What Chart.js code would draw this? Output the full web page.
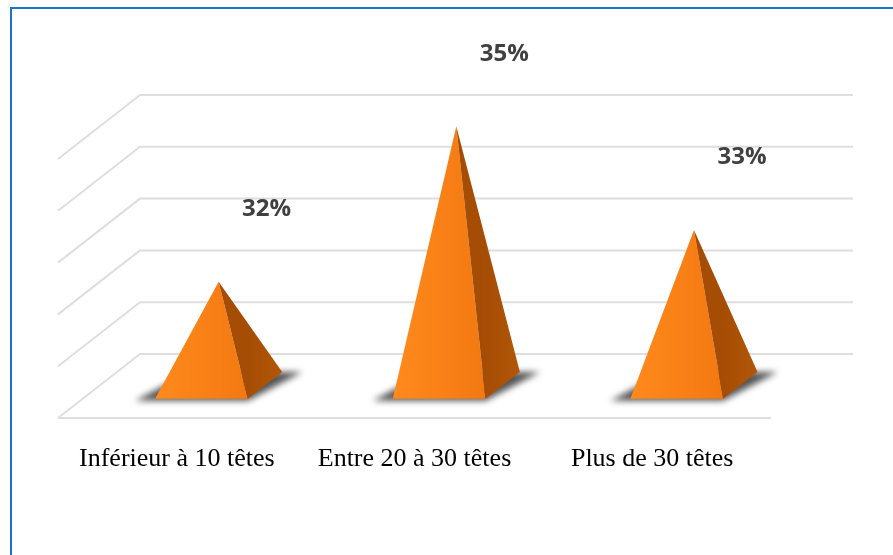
<!DOCTYPE html>
<html lang="fr">
<head>
<meta charset="utf-8">
<title>Taille du troupeau</title>
<script src="https://cdn.jsdelivr.net/npm/chart.js@4.4.1/dist/chart.umd.min.js"></script>
<style>
  html, body { margin: 0; padding: 0; background: #fff; overflow: hidden; }
  #frame { position: absolute; left: 10px; top: 7px; width: 1000px; height: 700px; border: 2px solid #1b74c5; }
  #wrap { position: absolute; left: 0; top: 0; width: 893px; height: 555px; }
</style>
</head>
<body>
<div id="frame"></div>
<div id="wrap"><canvas id="pyramid-chart"></canvas></div>
<script>
// Chart data
const categories = ['Inférieur à 10 têtes', 'Entre 20 à 30 têtes', 'Plus de 30 têtes'];
const percentages = [32, 35, 33];
const axisMin = 30;
const axisMax = 35;
const axisStep = 1;

// 3D look: depth of the floor in pixels, pyramid base as fractions
const DEPTH_X = 82;
const DEPTH_Y = 64;
const BASE_WIDTH = 0.39;   // share of the category width
const BASE_FRONT = 0.30;   // depth where the base starts
const BASE_BACK = 0.72;    // depth where the base ends
const LABEL_DX = 48;
const LABEL_DY = -74;

function proj(xFront, depth, yFront) {
    return { x: xFront + depth * DEPTH_X, y: yFront - depth * DEPTH_Y };
}

function poly(ctx, pts) {
    ctx.beginPath();
    ctx.moveTo(pts[0].x, pts[0].y);
    pts.slice(1).forEach(p => ctx.lineTo(p.x, p.y));
    ctx.closePath();
}

const pyramid3d = {
    id: 'pyramid3d',
    beforeDatasetsDraw(chart) {
        const { ctx, chartArea: a, scales: { y } } = chart;
        let values = y.ticks.map(t => t.value);
        if (!values.length) {
            for (let v = axisMin; v <= axisMax; v += axisStep) values.push(v);
        }
        ctx.save();
        ctx.strokeStyle = '#dedede';
        ctx.lineWidth = 2;
        ctx.lineJoin = 'round';
        // side wall + back wall gridlines
        values.forEach(v => {
            const py = y.getPixelForValue(v);
            ctx.beginPath();
            ctx.moveTo(a.left, py);
            ctx.lineTo(a.left + DEPTH_X, py - DEPTH_Y);
            ctx.lineTo(a.right + DEPTH_X, py - DEPTH_Y);
            ctx.stroke();
        });
        // front edge of the floor
        ctx.beginPath();
        ctx.moveTo(a.left, a.bottom);
        ctx.lineTo(a.right, a.bottom);
        ctx.stroke();
        ctx.restore();
    },
    afterDatasetsDraw(chart) {
        const { ctx, chartArea: a, scales: { x, y } } = chart;
        const catWidth = a.width / categories.length;
        const half = catWidth * BASE_WIDTH / 2;
        const y0 = y.getPixelForValue(axisMin);
        const mid = (BASE_FRONT + BASE_BACK) / 2;

        percentages.forEach((v, i) => {
            const cx = x.getPixelForValue(i);
            const fl = proj(cx - half, BASE_FRONT, y0);
            const fr = proj(cx + half, BASE_FRONT, y0);
            const br = proj(cx + half, BASE_BACK, y0);
            const bl = proj(cx - half, BASE_BACK, y0);
            const apex = proj(cx, mid, y.getPixelForValue(v));

            // soft shadow on the floor
            ctx.save();
            ctx.filter = 'blur(3px)';
            ctx.fillStyle = 'rgba(55,55,55,0.85)';
            poly(ctx, [
                { x: fl.x - 20, y: fl.y + 2 },
                { x: fr.x, y: fr.y + 2 },
                { x: br.x + 20, y: br.y },
                { x: bl.x, y: bl.y }
            ]);
            ctx.fill();
            ctx.restore();

            // front face
            ctx.save();
            let g = ctx.createLinearGradient(fl.x, 0, fr.x, 0);
            g.addColorStop(0, '#ff8a1c');
            g.addColorStop(1, '#f37811');
            ctx.fillStyle = g;
            poly(ctx, [fl, fr, apex]);
            ctx.fill();

            // right face
            g = ctx.createLinearGradient(fr.x, 0, br.x, 0);
            g.addColorStop(0, '#a64d05');
            g.addColorStop(1, '#b25707');
            ctx.fillStyle = g;
            poly(ctx, [fr, br, apex]);
            ctx.fill();
            ctx.restore();

            // value label
            ctx.save();
            ctx.font = 'bold 24px "Open Sans", "Liberation Sans", sans-serif';
            ctx.fillStyle = '#404040';
            ctx.textAlign = 'center';
            ctx.textBaseline = 'alphabetic';
            ctx.fillText(v + '%', apex.x + LABEL_DX, apex.y + LABEL_DY + 8.5);
            ctx.restore();
        });
    }
};

const chart = new Chart(document.getElementById('pyramid-chart'), {
    type: 'bar',
    data: {
        labels: categories,
        datasets: [{
            data: percentages,
            backgroundColor: 'rgba(0,0,0,0)',
            borderWidth: 0
        }]
    },
    options: {
        responsive: true,
        maintainAspectRatio: false,
        animation: false,
        layout: { padding: { left: 58, right: 122, top: 159, bottom: 0 } },
        scales: {
            x: {
                grid: { display: false, drawTicks: false },
                border: { display: false },
                ticks: {
                    color: '#000',
                    font: { family: '"Liberation Serif", "Times New Roman", serif', size: 26 },
                    padding: 26,
                    maxRotation: 0,
                    autoSkip: false
                },
                afterFit(axis) { axis.height = 137; }
            },
            y: {
                display: false,
                min: axisMin,
                max: axisMax,
                ticks: { stepSize: axisStep }
            }
        },
        plugins: {
            legend: { display: false },
            tooltip: { enabled: false }
        }
    },
    plugins: [pyramid3d]
});
</script>
</body>
</html>
